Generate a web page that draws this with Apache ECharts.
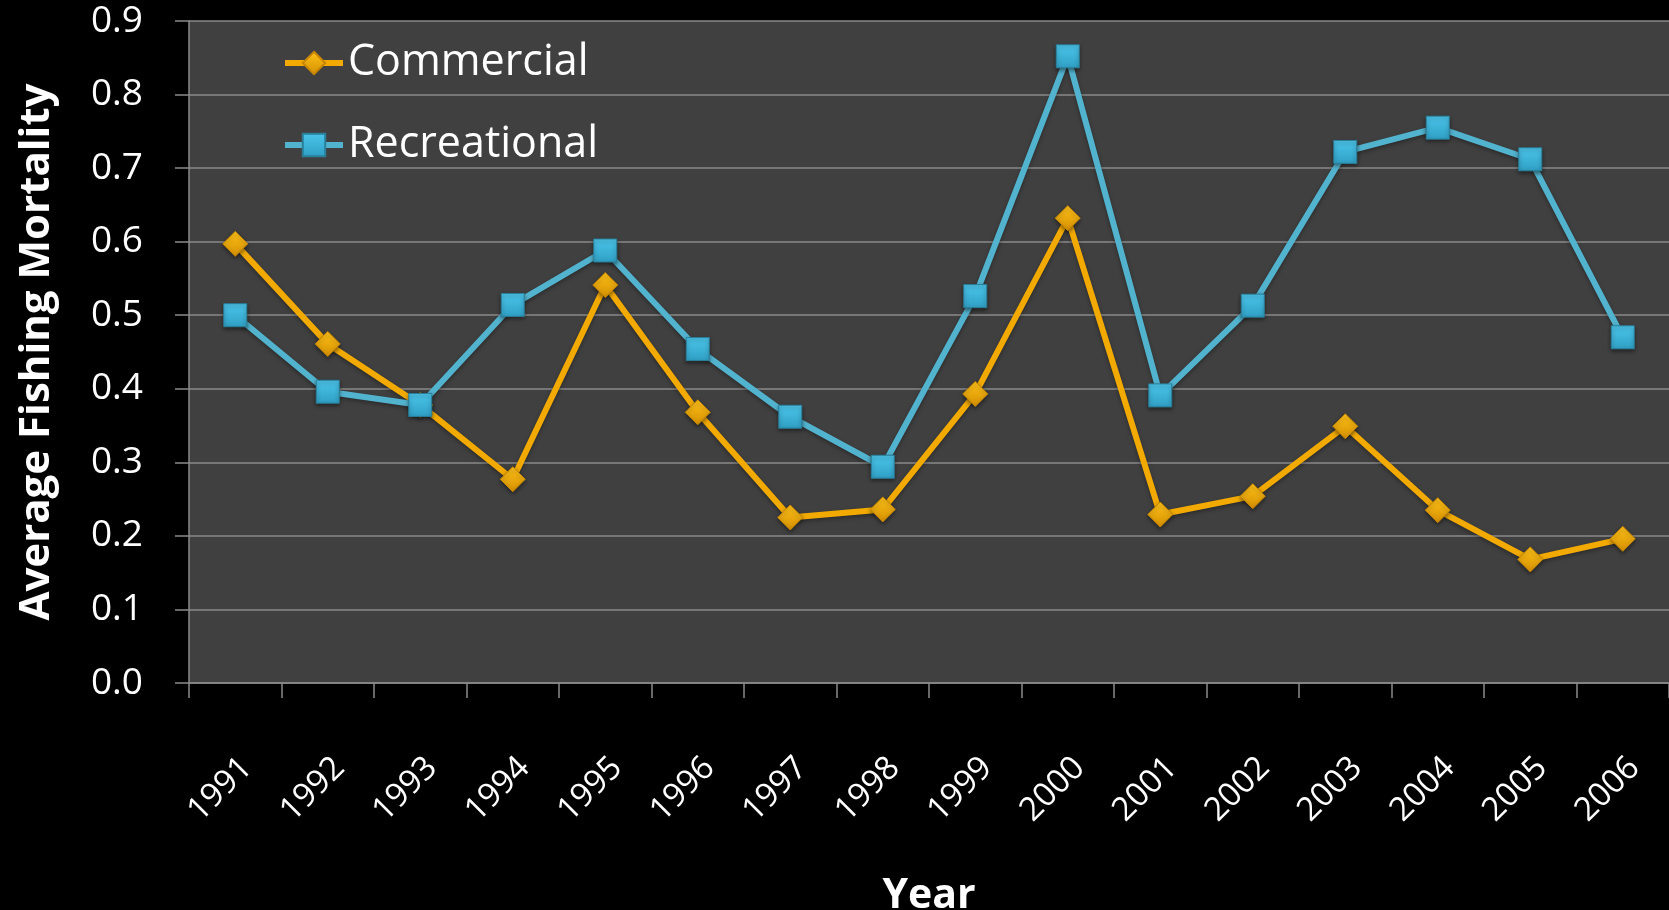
<!DOCTYPE html>
<html>
<head>
<meta charset="utf-8">
<style>
  html, body { margin: 0; padding: 0; background: #000; }
  #chart { width: 1669px; height: 910px; }
</style>
<script src="https://cdn.jsdelivr.net/npm/echarts@6/dist/echarts.min.js"></script>
</head>
<body>
<div id="chart"></div>
<script>
// Survey years on the category axis
const years = ['1991', '1992', '1993', '1994', '1995', '1996', '1997', '1998',
               '1999', '2000', '2001', '2002', '2003', '2004', '2005', '2006'];

// Average fishing mortality by sector
const commercial = [0.597, 0.461, 0.378, 0.277, 0.541, 0.368, 0.225, 0.236,
                    0.393, 0.632, 0.229, 0.254, 0.349, 0.235, 0.168, 0.196];
const recreational = [0.500, 0.396, 0.378, 0.514, 0.588, 0.454, 0.362, 0.294,
                      0.526, 0.852, 0.391, 0.513, 0.722, 0.755, 0.712, 0.470];

// Value axis range and step
const yMin = 0.0;
const yMax = 0.9;
const yStep = 0.1;

const FONT = '"Open Sans", "Noto Sans", sans-serif';
const GRID_GRAY = '#8a8a8a';
const ORANGE = '#F2AA00';
const BLUE = '#52B3CF';

const chart = echarts.init(document.getElementById('chart'), null, { renderer: 'canvas' });

chart.setOption({
  backgroundColor: '#000000',
  animation: false,
  grid: {
    left: 189,
    right: 0,
    top: 21,
    bottom: 227,
    show: true,
    backgroundColor: '#404040',
    borderWidth: 0,
    outerBoundsMode: 'none'
  },
  legend: {
    orient: 'vertical',
    left: 282,
    top: 41,
    padding: 0,
    itemGap: 38,
    itemWidth: 58,
    itemHeight: 28,
    lineStyle: { width: 6 },
    textStyle: { color: '#ffffff', fontFamily: FONT, fontSize: 43, lineHeight: 44 },
    data: ['Commercial', 'Recreational']
  },
  xAxis: {
    type: 'category',
    data: years,
    boundaryGap: true,
    name: 'Year',
    nameLocation: 'middle',
    nameGap: 193,
    nameTextStyle: { color: '#ffffff', fontFamily: FONT, fontSize: 41, fontWeight: 'bold' },
    axisLine: { show: true, lineStyle: { color: GRID_GRAY, width: 1.5 } },
    axisTick: { show: true, length: 15, inside: false, lineStyle: { color: GRID_GRAY, width: 1.5 } },
    axisLabel: {
      color: '#ffffff', fontFamily: FONT, fontSize: 33,
      rotate: 45, margin: 68, interval: 0, verticalAlign: 'top'
    },
    splitLine: { show: false }
  },
  yAxis: {
    type: 'value',
    min: yMin,
    max: yMax,
    interval: yStep,
    name: 'Average Fishing Mortality',
    nameLocation: 'middle',
    nameGap: 131,
    nameTextStyle: { color: '#ffffff', fontFamily: FONT, fontSize: 42, fontWeight: 'bold' },
    axisLine: { show: true, lineStyle: { color: GRID_GRAY, width: 1.5 } },
    axisTick: { show: true, length: 14, inside: false, lineStyle: { color: GRID_GRAY, width: 1.5 } },
    axisLabel: {
      color: '#ffffff', fontFamily: FONT, fontSize: 37, margin: 46,
      formatter: v => v.toFixed(1)
    },
    splitLine: { show: true, lineStyle: { color: GRID_GRAY, width: 1.5 } }
  },
  series: [
    {
      name: 'Commercial',
      type: 'line',
      data: commercial,
      symbol: 'diamond',
      symbolSize: [25, 25],
      z: 3,
      lineStyle: { color: ORANGE, width: 6, shadowColor: 'rgba(0,0,0,0.35)', shadowBlur: 4, shadowOffsetY: 2 },
      itemStyle: {
        color: new echarts.graphic.LinearGradient(0, 0, 0, 1, [
          { offset: 0, color: '#FFC21A' },
          { offset: 1, color: '#D48F00' }
        ]),
        borderColor: '#C68600',
        borderWidth: 1,
        shadowColor: 'rgba(0,0,0,0.45)',
        shadowBlur: 4,
        shadowOffsetY: 2
      }
    },
    {
      name: 'Recreational',
      type: 'line',
      data: recreational,
      symbol: 'rect',
      symbolSize: 23,
      z: 4,
      lineStyle: { color: BLUE, width: 6, shadowColor: 'rgba(0,0,0,0.35)', shadowBlur: 4, shadowOffsetY: 2 },
      itemStyle: {
        color: new echarts.graphic.LinearGradient(0, 0, 0, 1, [
          { offset: 0, color: '#4CC6EC' },
          { offset: 1, color: '#2F9FC4' }
        ]),
        borderColor: '#2A7F9A',
        borderWidth: 1,
        shadowColor: 'rgba(0,0,0,0.45)',
        shadowBlur: 4,
        shadowOffsetY: 2
      }
    }
  ]
});
</script>
</body>
</html>
